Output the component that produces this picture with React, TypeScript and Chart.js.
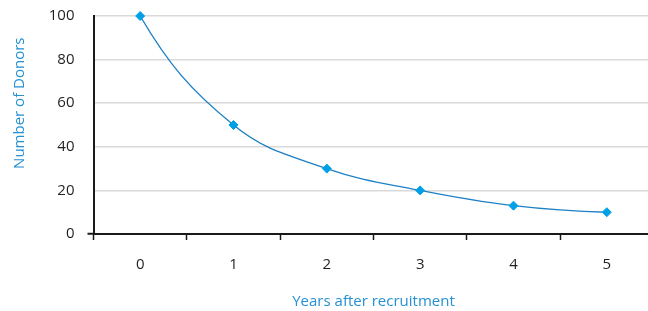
import { useEffect, useRef } from 'react';
import { Chart, registerables } from 'chart.js';

Chart.register(...registerables);

const years = ['0', '1', '2', '3', '4', '5'];
const donors = [100, 50, 30, 20, 13, 10];
const yTickValues = [0, 20, 40, 60, 80, 100];
const yTitle = 'Number of Donors';
const xTitle = 'Years after recruitment';

const FONT = 'Open Sans';
const TITLE_COLOR = '#2591d3';

// Smooth end conditions: mirror the neighbouring control handle across the end chord
function reflectAcross(vx: number, vy: number, cx: number, cy: number) {
  const len = Math.hypot(cx, cy) || 1;
  const ux = cx / len;
  const uy = cy / len;
  const d = vx * ux + vy * uy;
  return { x: 2 * d * ux - vx, y: 2 * d * uy - vy };
}

const smoothEndsPlugin = {
  id: 'smoothEnds',
  beforeDatasetsDraw(chart: any) {
    chart.data.datasets.forEach((_ds: any, i: number) => {
      const meta = chart.getDatasetMeta(i);
      const line = meta.dataset;
      if (!line || !meta.data || meta.data.length < 3) return;
      line._pointsUpdated = false;
      line.updateControlPoints(chart.chartArea, 'x');
      const pts = meta.data;
      const p0 = pts[0];
      const p1 = pts[1];
      const r0 = reflectAcross(p1.x - p1.cp1x, p1.y - p1.cp1y, p1.x - p0.x, p1.y - p0.y);
      p0.cp2x = p0.x + r0.x;
      p0.cp2y = p0.y + r0.y;
      const n = pts.length - 1;
      const pn = pts[n];
      const pm = pts[n - 1];
      const rn = reflectAcross(pm.x - pm.cp2x, pm.y - pm.cp2y, pm.x - pn.x, pm.y - pn.y);
      pn.cp1x = pn.x + rn.x;
      pn.cp1y = pn.y + rn.y;
    });
  },
};

const yTitlePlugin = {
  id: 'yTitleOffset',
  afterDraw(chart: any) {
    const ctx = chart.ctx;
    const area = chart.chartArea;
    ctx.save();
    ctx.font = `15px "${FONT}"`;
    ctx.fillStyle = TITLE_COLOR;
    ctx.textAlign = 'center';
    ctx.textBaseline = 'middle';
    ctx.translate(20, area.top + (area.bottom - area.top) * 0.4);
    ctx.rotate(-Math.PI / 2);
    ctx.fillText(yTitle, 0, 0);
    ctx.restore();
  },
};

export default function App() {
  const ref = useRef<HTMLCanvasElement>(null);

  useEffect(() => {
    if (!ref.current) return;
    const chart = new Chart(ref.current, {
      type: 'line',
      data: {
        labels: years,
        datasets: [
          {
            data: donors,
            borderColor: '#1f80c6',
            borderWidth: 1.4,
            tension: 0.4,
            clip: false,
            pointStyle: 'rectRot',
            pointRadius: 4.5,
            pointBackgroundColor: '#00a0e6',
            pointBorderColor: '#00a0e6',
            pointBorderWidth: 1,
          },
        ],
      },
      options: {
        responsive: false,
        animation: false,
        layout: { padding: { left: 0, right: 0, top: 16, bottom: 0 } },
        plugins: { legend: { display: false }, tooltip: { enabled: false } },
        scales: {
          x: {
            offset: true,
            grid: {
              offset: true,
              drawOnChartArea: false,
              tickLength: 6,
              tickColor: '#1a1a1a',
              tickWidth: 1.5,
            },
            border: { color: '#1a1a1a', width: 2 },
            ticks: {
              padding: 16,
              color: '#231f20',
              font: { family: FONT, size: 15 },
              maxRotation: 0,
            },
            title: {
              display: true,
              text: xTitle,
              color: TITLE_COLOR,
              font: { family: FONT, size: 15 },
              padding: { top: 0, bottom: 0 },
            },
            afterFit: (s: any) => {
              s.height = 77;
              s.paddingLeft = 0;
              s.paddingRight = 0;
            },
          },
          y: {
            min: 0,
            max: 100,
            afterBuildTicks: (s: any) => {
              s.ticks = yTickValues.map((v) => ({ value: v }));
            },
            grid: {
              color: '#d9d9d9',
              lineWidth: 1.5,
              tickLength: 6,
              tickColor: (ctx: any) => (ctx.tick && ctx.tick.value === 0 ? '#1a1a1a' : 'rgba(0,0,0,0)'),
              tickWidth: 2,
            },
            border: { color: '#1a1a1a', width: 2 },
            ticks: {
              padding: 13,
              color: '#231f20',
              font: { family: FONT, size: 15 },
            },
            title: { display: false, text: yTitle },
            afterFit: (s: any) => {
              s.width = 93.5;
              s.paddingTop = 0;
              s.paddingBottom = 0;
            },
          },
        },
      },
      plugins: [smoothEndsPlugin, yTitlePlugin],
    });
    return () => chart.destroy();
  }, []);

  return (
    <div
      style={{
        position: 'fixed',
        left: 0,
        top: 0,
        width: 648,
        height: 311,
        overflow: 'hidden',
        background: '#ffffff',
      }}
    >
      <canvas ref={ref} width={659} height={311} style={{ display: 'block' }} />
    </div>
  );
}
